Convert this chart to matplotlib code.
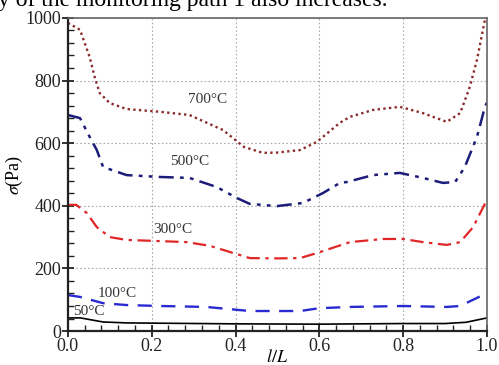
import numpy as np
import matplotlib.pyplot as plt
from matplotlib.ticker import MultipleLocator

plt.rcParams['font.family'] = ['Liberation Serif', 'DejaVu Serif']
plt.rcParams['mathtext.fontset'] = 'stix'

# --- dati ---
x_700 = [0.0, 0.029, 0.052, 0.064, 0.076, 0.10, 0.14, 0.22, 0.29, 0.37, 0.42, 0.465, 0.50,
         0.554, 0.594, 0.649, 0.673, 0.728, 0.792, 0.847, 0.904, 0.936, 0.959, 0.976, 0.995, 1.0]
y_700 = [984, 962, 875, 811, 760, 728, 709, 700, 690, 642, 588, 569, 570,
         578, 604, 665, 684, 706, 716, 696, 668, 696, 780, 866, 994, 1000]

x_500 = [0.0, 0.029, 0.052, 0.069, 0.084, 0.14, 0.22, 0.29, 0.355, 0.403, 0.434, 0.499,
         0.561, 0.609, 0.649, 0.666, 0.728, 0.792, 0.847, 0.895, 0.924, 0.947, 0.976, 0.995, 1.0]
y_500 = [690, 680, 620, 578, 524, 498, 492, 489, 460, 425, 406, 399,
         409, 441, 473, 476, 498, 505, 489, 473, 476, 524, 620, 716, 730]

x_300 = [0.0, 0.02, 0.045, 0.069, 0.10, 0.14, 0.203, 0.284, 0.339, 0.434, 0.50, 0.554,
         0.594, 0.673, 0.752, 0.80, 0.847, 0.904, 0.936, 0.967, 1.0]
y_300 = [403, 403, 377, 332, 300, 291, 288, 284, 272, 233, 232, 233,
         249, 284, 294, 294, 284, 275, 284, 332, 420]

x_100 = [0.0, 0.029, 0.084, 0.14, 0.22, 0.33, 0.434, 0.554, 0.60, 0.673, 0.80, 0.904, 0.936, 0.99, 1.0]
y_100 = [115, 109, 89, 83, 80, 77, 64, 64, 73, 77, 80, 77, 80, 115, 118]

x_50 = [0.0, 0.03, 0.084, 0.14, 0.4, 0.6, 0.8, 0.9, 0.95, 1.0]
y_50 = [42, 42, 29, 26, 23, 22, 24, 24, 28, 42]

etichette = ['700°C', '500°C', '300°C', '100°C', '50°C']
pos_etichette = [(0.334, 738), (0.29, 540), (0.25, 323), (0.118, 121), (0.05, 61)]

fig = plt.figure(figsize=(4.99, 3.65), dpi=100)
ax = fig.add_axes([0.136, 0.093, 0.840, 0.858])

ax.plot(x_700, y_700, color='#8b2a2a', linestyle=(0, (1, 1.4)), lw=1.7)
ax.plot(x_500, y_500, color='#1c1c7a', linestyle=(0, (6, 2.5, 1.5, 2.5, 1.5, 2.5)), lw=1.8)
ax.plot(x_300, y_300, color='#e02626', linestyle=(0, (6, 2.5, 1.5, 2.5)), lw=1.6)
ax.plot(x_100, y_100, color='#2a2ad2', linestyle=(0, (6, 4)), lw=1.7)
ax.plot(x_50, y_50, color='black', linestyle='-', lw=1.2)

for testo, (tx, ty) in zip(etichette, pos_etichette):
    ax.text(tx, ty, testo, ha='center', va='center', fontsize=11, color='#333333')

ax.set_xlim(0, 1)
ax.set_ylim(0, 1000)
ax.set_xticks([0, 0.2, 0.4, 0.6, 0.8, 1.0])
ax.set_xticklabels(['0.0', '0.2', '0.4', '0.6', '0.8', '1.0'])
ax.xaxis.set_minor_locator(MultipleLocator(0.04))
ax.yaxis.set_major_locator(MultipleLocator(200))
ax.yaxis.set_minor_locator(MultipleLocator(40))
ax.tick_params(which='major', direction='inout', length=8, width=1.3, labelsize=13, colors='#222222', pad=1)
ax.tick_params(which='minor', direction='in', length=4, width=1.0, colors='#222222')
ax.grid(True, which='major', linestyle=(0, (1.5, 2)), color='#aaaaaa', lw=0.8)

for lato in ['left', 'bottom']:
    ax.spines[lato].set_linewidth(1.6)
    ax.spines[lato].set_color('#222222')
for lato in ['top', 'right']:
    ax.spines[lato].set_linewidth(1.2)
    ax.spines[lato].set_color('#666666')

ax.set_xlabel('$l/L$', fontsize=13)
ax.xaxis.set_label_coords(0.5, -0.085)
ax.xaxis.label.set_va('center')
ax.set_ylabel('$\\sigma$(Pa)', fontsize=13, labelpad=0)

# riga di testo tagliata in alto
fig.text(-0.004, 0.983, 'y of the monitoring path 1 also increases.', fontsize=17,
         ha='left', va='baseline', color='black')

plt.savefig('out.png', dpi=100)
